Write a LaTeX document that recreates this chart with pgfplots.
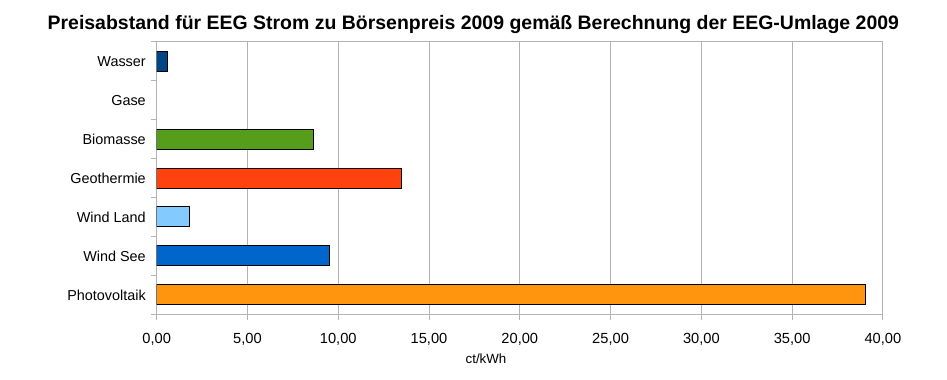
\documentclass[border=0pt]{standalone}
\usepackage{fontspec}
\setmainfont{Liberation Sans}
\usepackage{pgfplots}
\pgfplotsset{compat=1.18}
\definecolor{cWasser}{HTML}{004586}
\definecolor{cBio}{HTML}{579D1C}
\definecolor{cGeo}{HTML}{FF420E}
\definecolor{cWL}{HTML}{83CAFF}
\definecolor{cWS}{HTML}{0066CC}
\definecolor{cPV}{HTML}{FF950E}
\definecolor{gridc}{HTML}{B3B3B3}
\begin{document}
\begin{tikzpicture}
\useasboundingbox (0,0) rectangle (710.25pt,284.25pt);
\node[anchor=base, font=\bfseries\fontsize{14.6}{16}\selectfont] at (355pt,262.3pt)
  {Preisabstand für EEG Strom zu Börsenpreis 2009 gemäß Berechnung der EEG-Umlage 2009};
\node[anchor=base, font=\fontsize{10}{12}\selectfont] at (364.5pt,11.8pt) {ct/kWh};
\begin{axis}[
  at={(117.5pt,48.5pt)}, anchor=south west,
  scale only axis, width=544.7pt, height=204.5pt,
  xbar, bar width=15pt,
  xmin=0, xmax=40, ymin=-0.5, ymax=6.5,
  xtick={0,5,...,40},
  ytick={0,1,2,3,4,5,6},
  yticklabels={Photovoltaik,Wind See,Wind Land,Geothermie,Biomasse,Gase,Wasser},
  minor ytick={-0.5,0.5,...,6.5},
  xtick pos=bottom, ytick pos=left,
  tick align=outside,
  major tick length=4.5pt,
  minor tick length=4.5pt,
  ytick style={draw=none},
  minor y tick style={draw=gridc, line width=0.75pt},
  x tick style={draw=gridc, line width=0.75pt},
  xmajorgrids, grid style={gridc, line width=0.75pt},
  axis line style={gridc, line width=0.75pt},
  /pgf/number format/.cd, fixed, fixed zerofill, precision=2, use comma, assume math mode=true,
  /pgfplots/.cd,
  xticklabel style={font=\fontsize{11}{13}\selectfont, anchor=base, inner sep=0pt, yshift=-17.5pt},
  yticklabel style={font=\fontsize{10.8}{13}\selectfont, anchor=east, inner sep=0pt, xshift=-3.5pt},
]
\addplot[fill=cPV, draw=black, line width=0.75pt, bar shift=0pt] coordinates {(39.05,0)};
\addplot[fill=cWS, draw=black, line width=0.75pt, bar shift=0pt] coordinates {(9.51,1)};
\addplot[fill=cWL, draw=black, line width=0.75pt, bar shift=0pt] coordinates {(1.80,2)};
\addplot[fill=cGeo, draw=black, line width=0.75pt, bar shift=0pt] coordinates {(13.50,3)};
\addplot[fill=cBio, draw=black, line width=0.75pt, bar shift=0pt] coordinates {(8.65,4)};
\addplot[fill=cWasser, draw=black, line width=0.75pt, bar shift=0pt] coordinates {(0.60,6)};
\end{axis}
\end{tikzpicture}
\end{document}
